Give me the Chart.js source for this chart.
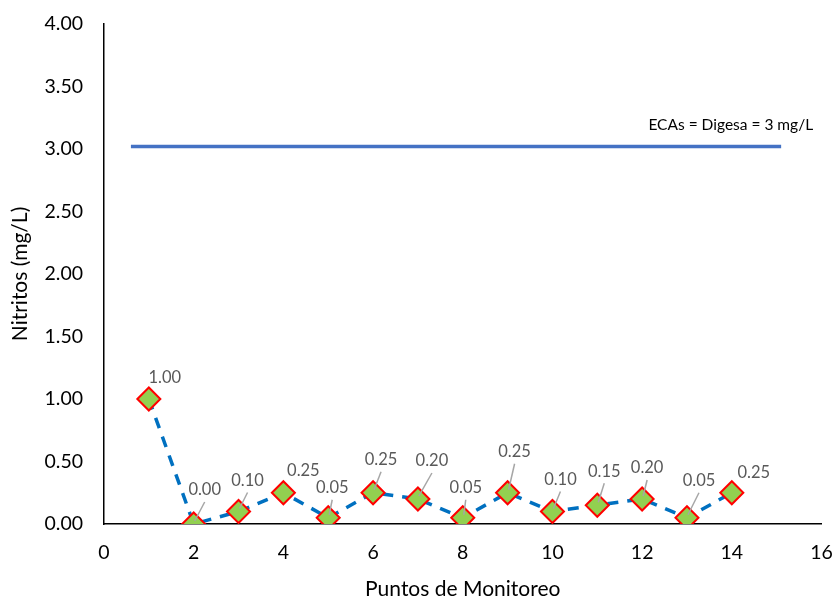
<!DOCTYPE html>
<html>
<head>
<meta charset="utf-8">
<script src="https://cdn.jsdelivr.net/npm/chart.js@4/dist/chart.umd.min.js"></script>
<style>
  html, body { margin: 0; padding: 0; background: #fff; }
  #wrap { width: 835px; height: 599px; }
</style>
</head>
<body>
<div id="wrap"><canvas id="c" width="835" height="599"></canvas></div>
<script>
// ---- data ----
const puntos = [1, 2, 3, 4, 5, 6, 7, 8, 9, 10, 11, 12, 13, 14];
const nitritos = [1.00, 0.00, 0.10, 0.25, 0.05, 0.25, 0.20, 0.05, 0.25, 0.10, 0.15, 0.20, 0.05, 0.25];
const limiteX = [0.6, 15.1];
const limiteValor = 3.02;
const limiteTexto = 'ECAs = Digesa = 3 mg/L';
const yTicks = [0, 0.5, 1, 1.5, 2, 2.5, 3, 3.5, 4];
const xTicks = [0, 2, 4, 6, 8, 10, 12, 14, 16];

// label placement (style): offsets of each data label from its point, and leader flag
const labelDx = [16, 11, 9, 20, 4, 8, 14, 3, 7, 8, 7, 5, 12, 22];
const labelDy = [-21, -34, -31, -22, -30, -33, -38, -30, -41, -32, -34, -31, -37, -20];
const leader  = [false, true, true, false, true, true, true, true, true, true, true, true, true, false];

const FONT = 'Lato, "Open Sans", sans-serif';

const labelPlugin = {
  id: 'labels',
  afterDatasetsDraw(chart) {
    const ctx = chart.ctx;
    const xs = chart.scales.x, ys = chart.scales.y;
    ctx.save();
    // data labels
    ctx.font = '16.5px ' + FONT;
    ctx.textAlign = 'center';
    ctx.textBaseline = 'middle';
    nitritos.forEach((v, i) => {
      const px = xs.getPixelForValue(puntos[i]);
      const py = ys.getPixelForValue(v);
      const lx = px + labelDx[i];
      const ly = py + labelDy[i];
      if (leader[i]) {
        ctx.strokeStyle = '#A6A6A6';
        ctx.lineWidth = 1.5;
        ctx.beginPath();
        ctx.moveTo(lx, ly + 12);
        ctx.lineTo(px + 1, py - 3);
        ctx.stroke();
      }
      ctx.fillStyle = '#595959';
      ctx.fillText(v.toFixed(2), lx, ly);
    });
    // limit label
    ctx.font = '15.5px ' + FONT;
    ctx.fillStyle = '#000000';
    ctx.textAlign = 'right';
    const ex = xs.getPixelForValue(limiteX[1]) + 32;
    const ey = ys.getPixelForValue(limiteValor) - 22;
    ctx.fillText(limiteTexto, ex, ey);
    ctx.restore();
  }
};

new Chart(document.getElementById('c'), {
  type: 'scatter',
  data: {
    datasets: [
      {
        label: 'Límite',
        data: limiteX.map(x => ({ x: x, y: limiteValor })),
        showLine: true,
        borderColor: '#4472C4',
        borderWidth: 3.5,
        pointRadius: 0,
        order: 2
      },
      {
        label: 'Nitritos',
        data: puntos.map((x, i) => ({ x: x, y: nitritos[i] })),
        showLine: true,
        borderColor: '#0070C0',
        borderWidth: 3.5,
        borderDash: [11, 9],
        pointStyle: 'rectRot',
        pointRadius: 11.5,
        pointHoverRadius: 11.5,
        pointBackgroundColor: '#92D050',
        pointBorderColor: '#FF0000',
        pointBorderWidth: 2,
        order: 1
      }
    ]
  },
  options: {
    responsive: false,
    animation: false,
    layout: { padding: { left: 0, right: 12, top: 24, bottom: 0 } },
    plugins: {
      legend: { display: false },
      tooltip: { enabled: false }
    },
    scales: {
      x: {
        type: 'linear',
        min: 0, max: 16,
        afterBuildTicks: s => { s.ticks = xTicks.map(v => ({ value: v })); },
        grid: { display: false, drawTicks: false },
        border: { display: true, color: '#000', width: 1.5 },
        ticks: { color: '#000', font: { family: FONT, size: 19.5 }, padding: 17 },
        title: { display: true, text: 'Puntos de Monitoreo', color: '#000', font: { family: FONT, size: 21 }, padding: { top: 8, bottom: -3 } },
        afterFit: s => { s.height = 75; s.paddingLeft = 0; s.paddingRight = 0; }
      },
      y: {
        type: 'linear',
        min: 0, max: 4,
        afterBuildTicks: s => { s.ticks = yTicks.map(v => ({ value: v })); },
        grid: { display: false, drawTicks: false },
        border: { display: true, color: '#000', width: 1.5 },
        ticks: { color: '#000', font: { family: FONT, size: 19.5 }, padding: 21, callback: v => Number(v).toFixed(2) },
        title: { display: true, text: 'Nitritos (mg/L)', color: '#000', font: { family: FONT, size: 21 }, padding: { top: 8, bottom: 0 } },
        afterFit: s => { s.width = 104; s.paddingTop = 0; s.paddingBottom = 0; }
      }
    }
  },
  plugins: [labelPlugin]
});
</script>
</body>
</html>
